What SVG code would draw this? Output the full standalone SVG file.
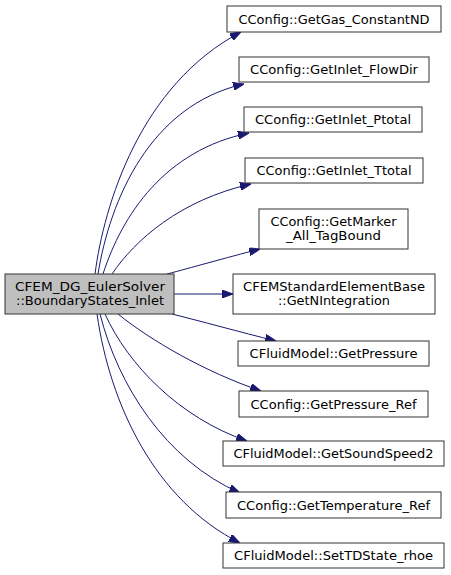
<svg xmlns="http://www.w3.org/2000/svg" width="451" height="575" viewBox="0 0 451 575">
<style>
.n rect{fill:#ffffff;stroke:#333333;stroke-width:1}
.m rect{fill:#bfbfbf;stroke:#333333;stroke-width:1}
text{font-family:"DejaVu Sans",sans-serif;font-size:13px;text-anchor:middle;fill:#000}
.e path{fill:none;stroke:#191970;stroke-width:1}
</style>
<defs>
<marker id="ah" viewBox="0 0 11 8" refX="11" refY="4" markerWidth="11" markerHeight="8" markerUnits="userSpaceOnUse" orient="auto">
<path d="M0,0 L11,4 L0,8 z" fill="#191970" stroke="#191970" stroke-width="1"/>
</marker>
</defs>
<rect width="451" height="575" fill="#ffffff"/>
<g id="edges" class="e">
<path marker-end="url(#ah)" d="M95,274 C104,205 140,85 241,32"/>
<path marker-end="url(#ah)" d="M98,274 C110,200 150,105 244,84"/>
<path marker-end="url(#ah)" d="M103,274 C122,215 165,150 249,133"/>
<path marker-end="url(#ah)" d="M112,274 C135,240 180,200 251,184"/>
<path marker-end="url(#ah)" d="M167,274 C190,268 225,258 260,249"/>
<path marker-end="url(#ah)" d="M174,294 L233,294"/>
<path marker-end="url(#ah)" d="M172,314 C200,321 240,332 276,341"/>
<path marker-end="url(#ah)" d="M118,314 C150,340 205,372 261,391"/>
<path marker-end="url(#ah)" d="M105,314 C128,365 180,418 247,441"/>
<path marker-end="url(#ah)" d="M100,314 C118,385 165,460 240,493"/>
<path marker-end="url(#ah)" d="M97,314 C110,405 155,500 240,543"/>
</g>
<g id="main" class="m"><rect x="5" y="274" width="169" height="40"/><text x="90" y="291" textLength="150" lengthAdjust="spacingAndGlyphs">CFEM_DG_EulerSolver</text><text x="90" y="305" textLength="148" lengthAdjust="spacingAndGlyphs">::BoundaryStates_Inlet</text></g>
<g id="n1" class="n"><rect x="227" y="6" width="214" height="26"/><text x="334" y="23.5" textLength="191" lengthAdjust="spacingAndGlyphs">CConfig::GetGas_ConstantND</text></g>
<g id="n2" class="n"><rect x="239" y="57" width="190" height="25"/><text x="334" y="74" textLength="168" lengthAdjust="spacingAndGlyphs">CConfig::GetInlet_FlowDir</text></g>
<g id="n3" class="n"><rect x="244" y="107" width="178" height="25"/><text x="333" y="124" textLength="156" lengthAdjust="spacingAndGlyphs">CConfig::GetInlet_Ptotal</text></g>
<g id="n4" class="n"><rect x="245" y="158" width="178" height="25"/><text x="334" y="175" textLength="155" lengthAdjust="spacingAndGlyphs">CConfig::GetInlet_Ttotal</text></g>
<g id="n5" class="n"><rect x="259" y="209" width="149" height="40"/><text x="333.5" y="226" textLength="126" lengthAdjust="spacingAndGlyphs">CConfig::GetMarker</text><text x="333.5" y="240" textLength="95" lengthAdjust="spacingAndGlyphs">_All_TagBound</text></g>
<g id="n6" class="n"><rect x="233" y="274" width="202" height="40"/><text x="334" y="291" textLength="182" lengthAdjust="spacingAndGlyphs">CFEMStandardElementBase</text><text x="334" y="305" textLength="112" lengthAdjust="spacingAndGlyphs">::GetNIntegration</text></g>
<g id="n7" class="n"><rect x="238" y="341" width="191" height="25"/><text x="333.5" y="358" textLength="168" lengthAdjust="spacingAndGlyphs">CFluidModel::GetPressure</text></g>
<g id="n8" class="n"><rect x="239" y="391" width="189" height="26"/><text x="333.5" y="408.5" textLength="166" lengthAdjust="spacingAndGlyphs">CConfig::GetPressure_Ref</text></g>
<g id="n9" class="n"><rect x="223" y="441" width="221" height="25"/><text x="333.5" y="458" textLength="200" lengthAdjust="spacingAndGlyphs">CFluidModel::GetSoundSpeed2</text></g>
<g id="n10" class="n"><rect x="226" y="492" width="215" height="26"/><text x="333.5" y="509.5" textLength="193" lengthAdjust="spacingAndGlyphs">CConfig::GetTemperature_Ref</text></g>
<g id="n11" class="n"><rect x="223" y="543" width="221" height="25"/><text x="333.5" y="560" textLength="199" lengthAdjust="spacingAndGlyphs">CFluidModel::SetTDState_rhoe</text></g>
</svg>
